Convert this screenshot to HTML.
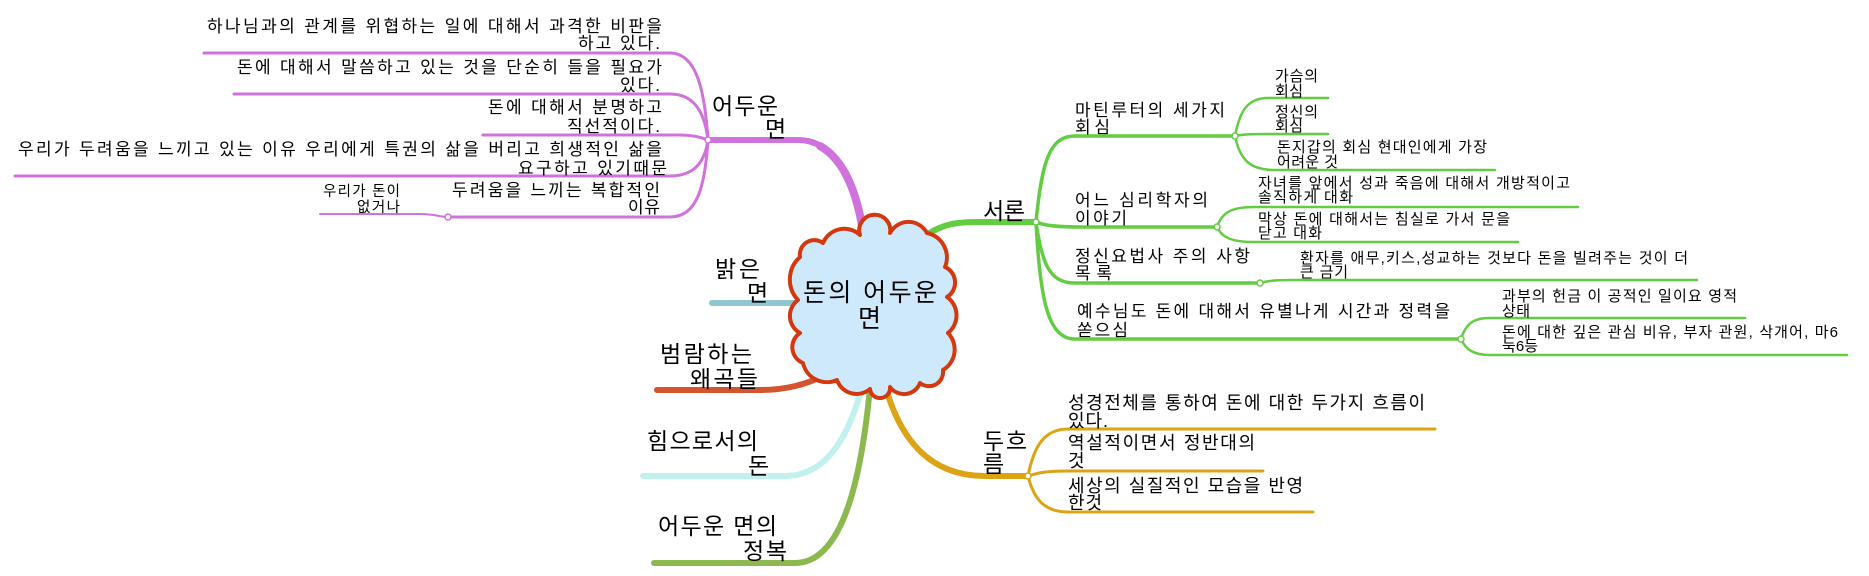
<!DOCTYPE html>
<html><head><meta charset="utf-8"><style>
html,body{margin:0;padding:0;background:#fff;}
svg{display:block;}
text{font-family:"Liberation Sans","Noto Sans CJK KR",sans-serif;fill:#000;}
.p17{font-size:17px;}
.s15{font-size:15px;}
.s14{font-size:14.5px;}
.y18{font-size:18px;}
.m23{font-size:23px;}
</style></head><body>
<svg width="1869" height="576" viewBox="0 0 1869 576" xmlns="http://www.w3.org/2000/svg">
<rect width="1869" height="576" fill="#fff"/>
<g fill="none" stroke-linecap="round">
<!-- purple -->
<g stroke="#d072dc">
<path d="M708,140 L798,140 C835,140 855,180 864,238" stroke-width="6"/>
<path d="M820,146 C845,160 858,195 864,238" stroke-width="8"/>
<path d="M204,53 H670 C698,53 705,95 708,140" stroke-width="3"/>
<path d="M234,94 H670 C696,94 705,115 708,140" stroke-width="3"/>
<path d="M483,135 H680 C695,135 703,138 708,140" stroke-width="3"/>
<path d="M15,176 H670 C696,176 705,160 708,140" stroke-width="3"/>
<path d="M448,217 H670 C698,217 705,185 708,140" stroke-width="3"/>
<path d="M320,214 H420 C435,214 440,217 448,217" stroke-width="2"/>
</g>
<!-- left nodes -->
<path d="M712,303 H805" stroke="#8ec5d0" stroke-width="6"/>
<path d="M657,390 H760 C785,390 805,385 825,375" stroke="#d4542e" stroke-width="6"/>
<path d="M643,476 H785 C830,476 850,430 862,388" stroke="#c2f0ee" stroke-width="6"/>
<path d="M654,563 H795 C845,563 862,470 870,388" stroke="#8cb94f" stroke-width="6"/>
<!-- yellow -->
<g stroke="#dca414">
<path d="M885,385 C900,440 930,476 985,476 H1028" stroke-width="6"/>
<path d="M1028,476 C1034,445 1045,429 1068,429 H1435" stroke-width="3"/>
<path d="M1028,476 C1040,472 1050,471 1068,471 H1263" stroke-width="3"/>
<path d="M1028,476 C1034,500 1045,512 1068,512 H1313" stroke-width="3"/>
</g>
<!-- green -->
<g stroke="#62cc42">
<path d="M925,236 C945,222 960,222 985,222 H1036" stroke-width="6"/>
<path d="M1036,222 C1042,160 1050,136 1075,136 H1235" stroke-width="3.5"/>
<path d="M1036,222 C1045,226 1060,227 1080,227 H1217" stroke-width="3.5"/>
<path d="M1036,222 C1042,265 1050,283 1075,283 H1260" stroke-width="3.5"/>
<path d="M1036,222 C1040,300 1048,339 1075,339 H1461" stroke-width="3.5"/>
<path d="M1235,136 C1240,110 1248,98 1268,98 H1328" stroke-width="2.5"/>
<path d="M1235,136 C1245,134 1255,134 1270,134 H1328" stroke-width="2.5"/>
<path d="M1235,136 C1240,160 1250,170 1275,170 H1495" stroke-width="2.5"/>
<path d="M1217,227 C1222,212 1232,207 1255,207 H1578" stroke-width="2.5"/>
<path d="M1217,227 C1222,238 1232,242 1255,242 H1518" stroke-width="2.5"/>
<path d="M1260,283 C1270,280 1280,280 1300,280 H1697" stroke-width="2.5"/>
<path d="M1461,339 C1466,323 1474,318 1490,318 H1745" stroke-width="2.5"/>
<path d="M1461,339 C1466,350 1474,355 1490,355 H1847" stroke-width="2.5"/>
</g>
</g>
<!-- cloud -->
<path d="M823,243 A23,23 0 0 1 860,235 A15.5,15.5 0 1 1 890,233 A21,21 0 0 1 927,233 A25,25 0 0 1 945,267 A17,17 0 0 1 947,297 A22.5,22.5 0 0 1 948,333 A23.8,23.8 0 0 1 943,370 A14.2,14.2 0 0 1 920,383 A17.2,17.2 0 0 1 890,387 A10,10 0 0 1 870,389 A20.7,20.7 0 0 1 837,380 A24.5,24.5 0 0 1 803,363 A17,17 0 0 1 800,333 A19.6,19.6 0 0 1 798,300 A30,30 0 0 1 800,257 A14.5,14.5 0 0 1 823,243 Z" fill="#cde9fb" stroke="#d4380f" stroke-width="4" stroke-linejoin="round"/>
<text x="803" y="301" style="font-size:25px" textLength="134">돈의 어두운</text>
<text x="858" y="327" style="font-size:25px" textLength="22">면</text>

<!-- purple texts -->
<text class="m23" x="712" y="114" textLength="66">어두운</text>
<text class="m23" x="765" y="137" textLength="20">면</text>
<text class="p17" x="207" y="32" textLength="455">하나님과의 관계를 위협하는 일에 대해서 과격한 비판을</text>
<text class="p17" x="578" y="49" textLength="82">하고 있다.</text>
<text class="p17" x="237" y="73" textLength="425">돈에 대해서 말씀하고 있는 것을 단순히 들을 필요가</text>
<text class="p17" x="620" y="91" textLength="40">있다.</text>
<text class="p17" x="488" y="113" textLength="174">돈에 대해서 분명하고</text>
<text class="p17" x="567" y="132" textLength="93">직선적이다.</text>
<text class="p17" x="18" y="155" textLength="644">우리가 두려움을 느끼고 있는 이유 우리에게 특권의 삶을 버리고 희생적인 삶을</text>
<text class="p17" x="518" y="174" textLength="149">요구하고 있기때문</text>
<text class="p17" x="452" y="196" textLength="208">두려움을 느끼는 복합적인</text>
<text class="p17" x="628" y="213" textLength="32">이유</text>
<text class="s14" x="323" y="196" textLength="77">우리가 돈이</text>
<text class="s14" x="357" y="212" textLength="43">없거나</text>

<!-- left nodes -->
<text class="m23" x="715" y="277" textLength="45">밝은</text>
<text class="m23" x="747" y="301" textLength="20">면</text>
<text class="m23" x="660" y="362" textLength="92">범람하는</text>
<text class="m23" x="690" y="387" textLength="68">왜곡들</text>
<text class="m23" x="647" y="449" textLength="111">힘으로서의</text>
<text class="m23" x="748" y="474" textLength="19">돈</text>
<text class="m23" x="658" y="534" textLength="119">어두운 면의</text>
<text class="m23" x="743" y="559" textLength="44">정복</text>

<!-- yellow -->
<text class="m23" x="983" y="449" textLength="44">두흐</text>
<text class="m23" x="983" y="472" textLength="20">름</text>
<text class="y18" x="1068" y="409" textLength="357">성경전체를 통하여 돈에 대한 두가지 흐름이</text>
<text class="y18" x="1068" y="427" textLength="40">있다.</text>
<text class="y18" x="1068" y="449" textLength="187">역설적이면서 정반대의</text>
<text class="y18" x="1068" y="467" textLength="16">것</text>
<text class="y18" x="1068" y="492" textLength="235">세상의 실질적인 모습을 반영</text>
<text class="y18" x="1068" y="509" textLength="34">한것</text>

<!-- green -->
<text class="m23" x="983" y="219" textLength="42">서론</text>
<text class="p17" x="1075" y="116" textLength="150">마틴루터의 세가지</text>
<text class="p17" x="1075" y="133" textLength="35">회심</text>
<text class="p17" x="1075" y="206" textLength="133">어느 심리학자의</text>
<text class="p17" x="1075" y="224" textLength="52">이야기</text>
<text class="p17" x="1075" y="262" textLength="175">정신요법사 주의 사항</text>
<text class="p17" x="1075" y="279" textLength="37">목록</text>
<text class="p17" x="1077" y="317" textLength="373">예수님도 돈에 대해서 유별나게 시간과 정력을</text>
<text class="p17" x="1077" y="336" textLength="51">쏟으심</text>

<text class="s15" x="1275" y="81" textLength="43">가슴의</text>
<text class="s15" x="1275" y="96" textLength="28">회심</text>
<text class="s15" x="1275" y="117" textLength="43">정신의</text>
<text class="s15" x="1275" y="131" textLength="28">회심</text>
<text class="s15" x="1277" y="152" textLength="210">돈지갑의 회심 현대인에게 가장</text>
<text class="s15" x="1277" y="167" textLength="61">어려운 것</text>
<text class="s15" x="1258" y="188" textLength="312">자녀를 앞에서 성과 죽음에 대해서 개방적이고</text>
<text class="s15" x="1258" y="202" textLength="95">솔직하게 대화</text>
<text class="s15" x="1258" y="224" textLength="252">막상 돈에 대해서는 침실로 가서 문을</text>
<text class="s15" x="1258" y="238" textLength="64">닫고 대화</text>
<text class="s15" x="1300" y="263" textLength="388">환자를 애무,키스,성교하는 것보다 돈을 빌려주는 것이 더</text>
<text class="s15" x="1300" y="277" textLength="48">큰 금기</text>
<text class="s15" x="1502" y="301" textLength="235">과부의 헌금 이 공적인 일이요 영적</text>
<text class="s15" x="1502" y="316" textLength="28">상태</text>
<text class="s15" x="1502" y="337" textLength="336">돈에 대한 깊은 관심 비유, 부자 관원, 삭개어, 마6</text>
<text class="s15" x="1502" y="351" textLength="36">눅6등</text>

<!-- junction dots -->
<g fill="#fff" stroke-width="1.5">
<circle cx="708" cy="140" r="3" stroke="#d072dc"/>
<circle cx="448" cy="217" r="3" stroke="#d072dc"/>
<circle cx="1036" cy="222" r="3" stroke="#62cc42"/>
<circle cx="1235" cy="136" r="3" stroke="#62cc42"/>
<circle cx="1217" cy="227" r="3" stroke="#62cc42"/>
<circle cx="1260" cy="283" r="3" stroke="#62cc42"/>
<circle cx="1461" cy="339" r="3" stroke="#62cc42"/>
<circle cx="1028" cy="476" r="3" stroke="#dca414"/>
</g>
</svg>
</body></html>
